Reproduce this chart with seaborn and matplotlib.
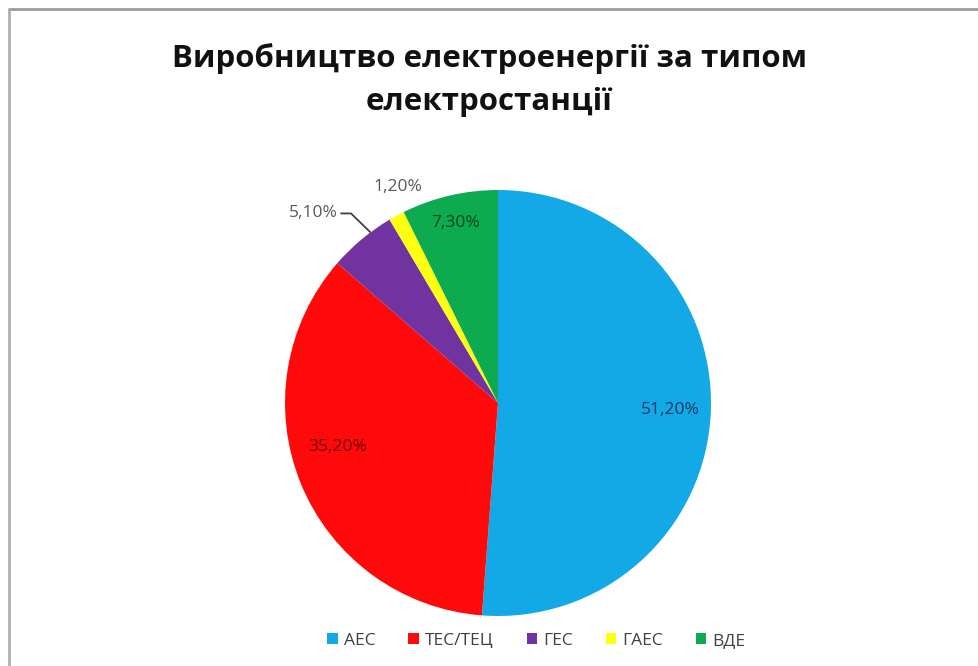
import matplotlib
matplotlib.use("Agg")
import matplotlib.pyplot as plt
import seaborn as sns
import numpy as np
from matplotlib.lines import Line2D
from matplotlib.patches import Patch

categories = ["АЕС", "ТЕС/ТЕЦ", "ГЕС", "ГАЕС", "ВДЕ"]
values = [51.2, 35.2, 5.1, 1.2, 7.3]
value_labels = ["51,20%", "35,20%", "5,10%", "1,20%", "7,30%"]
title = "Виробництво електроенергії за типом\nелектростанції"

colors = sns.color_palette(["#13A8E6", "#FF0A0A", "#7133A0", "#FFFF10", "#0EAA50"])
label_colors = ["#0E3A66", "#6E0000", "#595959", "#595959", "#00461F"]

sns.set_theme(style="white")
plt.rcParams['font.family'] = ['Open Sans', 'DejaVu Sans']

fig = plt.figure(figsize=(9.79, 6.66), dpi=100)
fig.patch.set_facecolor("white")

# frame (top and left visible)
fig.add_artist(Line2D([9/979, 1], [1 - 9/666, 1 - 9/666], color="#9a9a9a", lw=2))
fig.add_artist(Line2D([9/979, 9/979], [0, 1 - 9/666], color="#b0b0b0", lw=2))

cx, cy, r = 498, 403, 213
ax = fig.add_axes([(cx - r) / 979, (666 - cy - r) / 666, 2 * r / 979, 2 * r / 666])
wedges, _ = ax.pie(values, colors=colors, startangle=90, counterclock=False,
                   radius=1.0, wedgeprops=dict(linewidth=0))
ax.set_xlim(-1, 1)
ax.set_ylim(-1, 1)
ax.set_aspect("auto")
ax.axis("off")

# inside labels: (distance, angle offset in degrees)
inside = {0: (0.81, 0), 1: (0.78, -7), 4: (0.87, 0)}
for i, w in enumerate(wedges):
    if i in inside:
        d, off = inside[i]
        ang = np.deg2rad((w.theta1 + w.theta2) / 2 + off)
        ax.text(d * np.cos(ang), d * np.sin(ang), value_labels[i], ha="center", va="center",
                fontsize=12.5, color=label_colors[i])

# outside label for ГЕС with leader line
w = wedges[2]
ang = np.deg2rad((w.theta1 + w.theta2) / 2 - 3)
ex, ey = 1.0 * np.cos(ang), 1.0 * np.sin(ang)
lx, ly = -0.74, 0.89
ax.text(lx - 0.01, ly, value_labels[2], ha="right", va="center", fontsize=12.5, color="#595959")
ax.plot([lx, lx + 0.05, ex], [ly, ly, ey], color="#404040", lw=1.3, solid_capstyle="butt")

# outside label for ГАЕС
ax.text(-0.47, 1.015, value_labels[3], ha="center", va="center", fontsize=12.5, color="#595959")

fig.text(0.50, 1 - 80 / 666, title, ha="center", va="center", fontsize=22.5,
         fontweight="bold", color="#111111", linespacing=1.55)

handles = [Patch(facecolor=c, edgecolor="none") for c in colors]
fig.legend(handles, categories, loc="center", bbox_to_anchor=(0.548, 1 - 641 / 666), ncol=5,
           frameon=False, fontsize=12.5, handlelength=0.6, handleheight=0.6,
           handletextpad=0.35, columnspacing=1.9, labelcolor="#404040")

fig.savefig("out.png", dpi=100, facecolor="white")
